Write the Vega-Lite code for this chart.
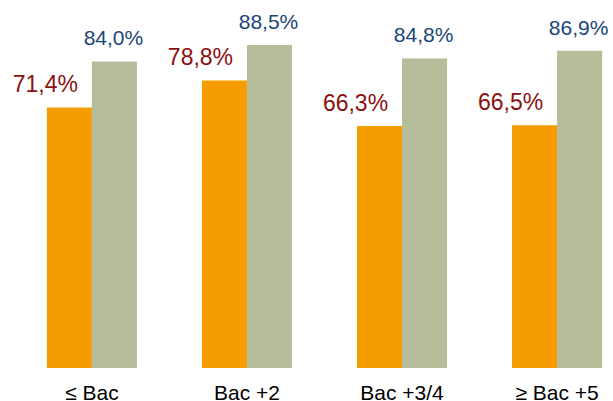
{
  "$schema": "https://vega.github.io/schema/vega-lite/v6.json",
  "autosize": {"type": "none"},
  "padding": {"left": 36, "top": 3, "right": 0, "bottom": 33},
  "width": 577,
  "height": 365,
  "background": "white",
  "config": {
    "view": {"stroke": null},
    "font": "Liberation Sans",
    "locale": {"number": {"decimal": ",", "thousands": " ", "grouping": [3], "currency": ["", " €"]}}
  },
  "data": {
    "values": [
      {"cat": "≤ Bac", "series": "A", "value": 0.714},
      {"cat": "≤ Bac", "series": "B", "value": 0.840},
      {"cat": "Bac +2", "series": "A", "value": 0.788},
      {"cat": "Bac +2", "series": "B", "value": 0.885},
      {"cat": "Bac +3/4", "series": "A", "value": 0.663},
      {"cat": "Bac +3/4", "series": "B", "value": 0.848},
      {"cat": "≥ Bac +5", "series": "A", "value": 0.665},
      {"cat": "≥ Bac +5", "series": "B", "value": 0.869}
    ]
  },
  "encoding": {
    "x": {
      "field": "cat", "type": "nominal", "sort": null,
      "scale": {"paddingInner": 0.419, "paddingOuter": 0.07},
      "axis": {"title": null, "domain": false, "ticks": false, "labelAngle": 0, "labelFontSize": 21, "labelColor": "#000000", "labelPadding": 14, "labelFont": "Liberation Sans"}
    },
    "xOffset": {"field": "series", "type": "nominal", "scale": {"paddingInner": 0, "paddingOuter": 0}},
    "y": {"field": "value", "type": "quantitative", "scale": {"domain": [0, 1]}, "axis": null}
  },
  "layer": [
    {
      "mark": {"type": "bar"},
      "encoding": {
        "color": {"field": "series", "type": "nominal", "scale": {"domain": ["A", "B"], "range": ["#F59C00", "#B6BD9A"]}, "legend": null}
      }
    },
    {
      "transform": [{"filter": "datum.series === 'A'"}],
      "mark": {"type": "text", "baseline": "alphabetic", "align": "center", "dx": -24, "dy": -15, "fontSize": 23, "color": "#8B1010"},
      "encoding": {"text": {"field": "value", "type": "quantitative", "format": ".1%"}}
    },
    {
      "transform": [{"filter": "datum.series === 'B'"}],
      "mark": {"type": "text", "baseline": "alphabetic", "align": "center", "dx": -1, "dy": -16, "fontSize": 21, "color": "#1B4677"},
      "encoding": {"text": {"field": "value", "type": "quantitative", "format": ".1%"}}
    }
  ]
}
